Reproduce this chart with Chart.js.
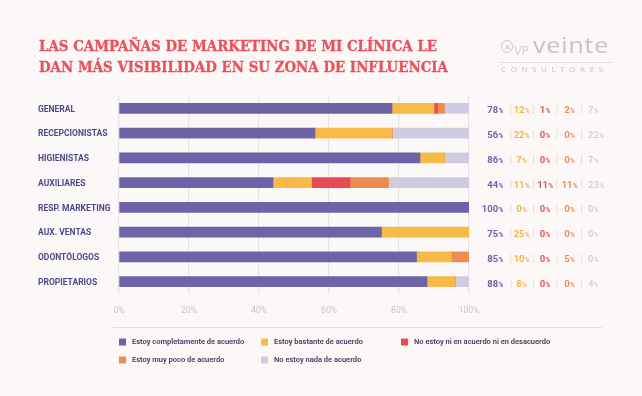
<!DOCTYPE html>
<html>
<head>
<meta charset="utf-8">
<script src="https://cdn.jsdelivr.net/npm/chart.js@4.4.1/dist/chart.umd.min.js"></script>
<style>
  html, body { margin: 0; padding: 0; background: #fdf8f8; }
  #wrap { position: relative; width: 642px; height: 396px; overflow: hidden; }
  #grafico { position: absolute; left: 0; top: 0; }
  .titulo { position: absolute; left: 39px; top: 36px; font-family: "DejaVu Serif", serif; font-weight: bold;
    font-size: 14px; line-height: 20.5px; color: #e9525c; white-space: nowrap; -webkit-text-stroke: 0.3px #e9525c; }
  .titulo span { display: block; transform-origin: 0 0; }
  .logo { position: absolute; left: 500px; top: 34px; width: 114px; height: 40px; color: #c6c2c2; font-family: "Open Sans", sans-serif; }
  .logo .icono { position: absolute; left: 1px; top: 6px; width: 10px; height: 11px; border: 1.5px solid #cfcaca; border-radius: 50%;
    font-size: 8px; line-height: 11px; text-align: center; }
  .logo .vp { position: absolute; left: 14px; top: 7px; font-size: 13px; letter-spacing: -0.5px; color: #d3cfcf; }
  .logo .veinte { position: absolute; left: 33px; top: -3px; font-size: 21px; font-weight: 500; letter-spacing: 0.8px; transform-origin: 0 0; transform: scaleX(1.18); }
  .logo .raya { position: absolute; left: 0; top: 28px; width: 112px; height: 1px; background: #e6e1e1; }
  .logo .consultores { position: absolute; left: 1px; top: 29px; font-size: 8px; letter-spacing: 4.6px; font-family: "Open Sans", sans-serif; }
</style>
</head>
<body>
<div id="wrap">
  <canvas id="grafico" width="642" height="396"></canvas>
  <div class="titulo">
    <span>LAS CAMPAÑAS DE MARKETING DE MI CLÍNICA LE</span>
    <span>DAN MÁS VISIBILIDAD EN SU ZONA DE INFLUENCIA</span>
  </div>
  <div class="logo">
    <div class="icono">✕</div>
    <div class="vp">VP</div>
    <div class="veinte">veinte</div>
    <div class="raya"></div>
    <div class="consultores">CONSULTORES</div>
  </div>
</div>
<script>
// datos
const categorias = ['GENERAL', 'RECEPCIONISTAS', 'HIGIENISTAS', 'AUXILIARES', 'RESP. MARKETING', 'AUX. VENTAS', 'ODONTÓLOGOS', 'PROPIETARIOS'];
const series = ['Estoy completamente de acuerdo', 'Estoy bastante de acuerdo', 'No estoy ni en acuerdo ni en desacuerdo', 'Estoy muy poco de acuerdo', 'No estoy nada de acuerdo'];
const completamente = [78, 56, 86, 44, 100, 75, 85, 88];
const bastante = [12, 22, 7, 11, 0, 25, 10, 8];
const niNi = [1, 0, 0, 11, 0, 0, 0, 0];
const muyPoco = [2, 0, 0, 11, 0, 0, 5, 0];
const nada = [7, 22, 7, 23, 0, 0, 0, 4];
const ticksX = [0, 20, 40, 60, 80, 100];

const colores = ['#6d64a7', '#f7b947', '#e84b53', '#ef8b4e', '#cfcce2'];
const coloresTexto = ['#6d64a7', '#f4b447', '#e5535b', '#ec8c55', '#d2d0e2'];
const valores = [completamente, bastante, niNi, muyPoco, nada];

// ajustar ancho del titulo
const lineas = document.querySelectorAll('.titulo span');
const w0 = lineas[0].getBoundingClientRect().width;
const esc = 409 / w0;
lineas.forEach(l => l.style.transform = 'scaleX(' + esc + ')');

const porcentajesDerecha = {
  id: 'porcentajesDerecha',
  afterDraw(chart) {
    const ctx = chart.ctx;
    const y = chart.scales.y;
    const colX = [503, 521.5, 545, 569.5, 588];
    const alinea = ['right', 'center', 'center', 'center', 'left'];
    const sepX = [511, 533.5, 557, 581.5];
    ctx.save();
    chart.data.labels.forEach((_, i) => {
      const py = y.getPixelForValue(i) + 1.5;
      ctx.strokeStyle = '#e6e0e2';
      ctx.lineWidth = 1;
      sepX.forEach(sx => {
        ctx.beginPath();
        ctx.moveTo(sx, py - 4.5);
        ctx.lineTo(sx, py + 4.5);
        ctx.stroke();
      });
      chart.data.datasets.forEach((ds, k) => {
        const num = String(ds.data[i]);
        ctx.font = 'bold 9.5px Roboto';
        const wn = ctx.measureText(num).width;
        ctx.font = 'bold 6.5px Roboto';
        const wp = ctx.measureText('%').width;
        const tot = wn + wp;
        let x0 = colX[k];
        if (alinea[k] === 'right') x0 -= tot;
        else if (alinea[k] === 'center') x0 -= tot / 2;
        ctx.fillStyle = coloresTexto[k];
        ctx.textBaseline = 'alphabetic';
        ctx.textAlign = 'left';
        ctx.font = 'bold 9.5px Roboto';
        ctx.fillText(num, x0, py + 3.4);
        ctx.font = 'bold 6.5px Roboto';
        ctx.fillText('%', x0 + wn + 0.3, py + 3.4);
      });
    });
    ctx.restore();
  }
};

const leyendaPropia = {
  id: 'leyendaPropia',
  afterDraw(chart) {
    const ctx = chart.ctx;
    const colsX = [119, 261, 401];
    const filasY = [342, 360];
    ctx.save();
    ctx.strokeStyle = '#e3dfec';
    ctx.lineWidth = 1;
    ctx.beginPath();
    ctx.moveTo(113, 327.5);
    ctx.lineTo(602, 327.5);
    ctx.stroke();
    chart.data.datasets.forEach((ds, k) => {
      const x = colsX[k % 3];
      const yy = filasY[Math.floor(k / 3)];
      ctx.fillStyle = ds.backgroundColor;
      ctx.fillRect(x, yy - 3.5, 7, 7);
      ctx.fillStyle = '#3e3c5e';
      ctx.font = '600 7.5px Roboto';
      ctx.textBaseline = 'middle';
      ctx.textAlign = 'left';
      ctx.fillText(ds.label, x + 13, yy + 0.5);
    });
    ctx.restore();
  }
};

new Chart(document.getElementById('grafico'), {
  type: 'bar',
  data: {
    labels: categorias,
    datasets: series.map((s, k) => ({
      label: s,
      data: valores[k],
      backgroundColor: colores[k],
      borderWidth: 0,
      barThickness: 10
    }))
  },
  options: {
    indexAxis: 'y',
    responsive: false,
    devicePixelRatio: 1,
    animation: false,
    layout: { padding: { left: 38, top: 96, right: 173, bottom: 78 } },
    plugins: {
      legend: { display: false },
      tooltip: { enabled: false }
    },
    scales: {
      x: {
        stacked: true,
        min: 0,
        max: 100,
        afterBuildTicks: sc => { sc.ticks = ticksX.map(v => ({ value: v })); },
        afterFit: sc => { sc.height = 24; },
        grid: { color: '#e7e3ea', lineWidth: 1.2, drawTicks: false },
        border: { display: false },
        ticks: {
          padding: 12,
          color: '#c6c2d6',
          font: { family: 'Roboto', size: 8.5 },
          callback: v => v + '%'
        }
      },
      y: {
        stacked: true,
        afterFit: sc => { sc.width = 81; },
        grid: { display: false },
        border: { display: false },
        ticks: {
          crossAlign: 'far',
          labelOffset: 1,
          color: '#4a4a8a',
          font: { family: 'Roboto', size: 8.5, weight: 'bold' }
        }
      }
    }
  },
  plugins: [porcentajesDerecha, leyendaPropia]
});
</script>
</body>
</html>
